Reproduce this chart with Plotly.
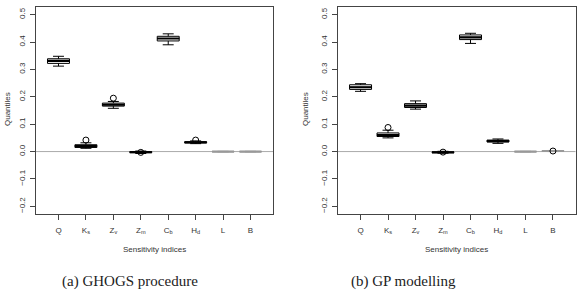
import plotly.graph_objects as go

categories = ["Q", "Ks", "Zv", "Zm", "Cb", "Hd", "L", "B"]
tick_labels = ["Q", "K<sub>s</sub>", "Z<sub>v</sub>", "Z<sub>m</sub>", "C<sub>b</sub>",
               "H<sub>d</sub>", "L", "B"]

# (a) GHOGS procedure
a_low = [0.312, 0.012, 0.158, -0.007, 0.390, 0.029, -0.001, -0.001]
a_q1 = [0.322, 0.015, 0.166, -0.004, 0.404, 0.031, -0.0005, -0.0005]
a_med = [0.331, 0.020, 0.171, -0.002, 0.413, 0.034, 0.000, 0.000]
a_q3 = [0.339, 0.025, 0.177, 0.000, 0.421, 0.036, 0.0005, 0.0005]
a_high = [0.348, 0.032, 0.183, 0.002, 0.430, 0.039, 0.001, 0.001]
a_out_x = ["Ks", "Zv", "Zm", "Hd"]
a_out_y = [0.042, 0.195, -0.003, 0.042]

# (b) GP modelling
b_low = [0.220, 0.050, 0.155, -0.006, 0.395, 0.030, -0.001, 0.000]
b_q1 = [0.227, 0.055, 0.161, -0.004, 0.409, 0.035, -0.0005, 0.001]
b_med = [0.235, 0.060, 0.168, -0.003, 0.417, 0.038, 0.000, 0.002]
b_q3 = [0.244, 0.068, 0.175, -0.001, 0.426, 0.042, 0.0005, 0.003]
b_high = [0.248, 0.078, 0.185, 0.001, 0.432, 0.046, 0.001, 0.004]
b_out_x = ["Ks", "Zm", "B"]
b_out_y = [0.088, -0.002, 0.002]

y_ticks = [-0.2, -0.1, 0.0, 0.1, 0.2, 0.3, 0.4, 0.5]
y_ticktext = ["\u22120.2", "\u22120.1", "0.0", "0.1", "0.2", "0.3", "0.4", "0.5"]

W, H = 578, 292
fig = go.Figure()

def add_panel(low, q1, med, q3, high, out_x, out_y, xa, ya):
    box_cols = ["black"] * 6 + ["#999999", "#999999"]
    for i, c in enumerate(categories):
        fig.add_trace(go.Box(
            x=[c], q1=[q1[i]], median=[med[i]], q3=[q3[i]],
            lowerfence=[low[i]], upperfence=[high[i]],
            fillcolor="white", line=dict(color=box_cols[i], width=1),
            width=0.8, whiskerwidth=0.5, boxpoints=False,
            xaxis=xa, yaxis=ya, showlegend=False, hoverinfo="skip"))
        # thick median bar
        fig.add_trace(go.Box(
            x=[c], q1=[med[i]], median=[med[i]], q3=[med[i]],
            lowerfence=[med[i]], upperfence=[med[i]],
            fillcolor="rgba(0,0,0,0)", line=dict(color=box_cols[i], width=2.2),
            width=0.8, whiskerwidth=0, boxpoints=False,
            xaxis=xa, yaxis=ya, showlegend=False, hoverinfo="skip"))
    fig.add_trace(go.Scatter(
        x=out_x, y=out_y, mode="markers",
        marker=dict(symbol="circle-open", size=6, color="black", line=dict(width=1)),
        xaxis=xa, yaxis=ya, showlegend=False, hoverinfo="skip"))

add_panel(a_low, a_q1, a_med, a_q3, a_high, a_out_x, a_out_y, "x", "y")
add_panel(b_low, b_q1, b_med, b_q3, b_high, b_out_x, b_out_y, "x2", "y2")

axis_font = dict(family="Liberation Sans, Arial, sans-serif", size=8, color="#333333")

xcommon = dict(
    type="category", categoryorder="array", categoryarray=categories,
    tickmode="array", tickvals=categories, ticktext=tick_labels,
    range=[-0.82, 7.82], showgrid=False, zeroline=False,
    showline=True, mirror=True, linecolor="#444444", linewidth=1,
    ticks="outside", ticklen=5, tickcolor="#444444", tickfont=axis_font,
    ticklabelstandoff=3,
)
ycommon = dict(
    range=[-0.228, 0.528], tickmode="array", tickvals=y_ticks, ticktext=y_ticktext,
    showgrid=False, zeroline=False,
    showline=True, mirror=True, linecolor="#444444", linewidth=1,
    ticks="outside", ticklen=5, tickcolor="#444444", tickfont=axis_font,
    tickangle=-90, ticklabelstandoff=2,
)

y_dom = [1 - 214 / H, 1 - 7 / H]
fig.update_layout(
    width=W, height=H, margin=dict(l=0, r=0, t=0, b=0),
    paper_bgcolor="white", plot_bgcolor="white",
    xaxis=dict(domain=[36 / W, 273 / W], anchor="y", **xcommon),
    yaxis=dict(domain=y_dom, anchor="x", **ycommon),
    xaxis2=dict(domain=[338 / W, 575.5 / W], anchor="y2", **xcommon),
    yaxis2=dict(domain=y_dom, anchor="x2", **ycommon),
    boxgap=0, boxgroupgap=0, boxmode="overlay",
)

# zero reference lines
for xr, yr in [("x", "y"), ("x2", "y2")]:
    fig.add_shape(type="line", xref=f"{xr} domain", yref=yr, x0=0, x1=1, y0=0, y1=0,
                  line=dict(color="#aaaaaa", width=1), layer="below")

ann_font = dict(family="Liberation Sans, Arial, sans-serif", size=8, color="#333333")
for cx, lab in [(154.5, "Sensitivity indices"), (456.5, "Sensitivity indices")]:
    fig.add_annotation(text=lab, x=cx / W, y=1 - 249 / H, xref="paper", yref="paper",
                       showarrow=False, font=ann_font, xanchor="center", yanchor="middle")
for cx in [7, 305]:
    fig.add_annotation(text="Quantiles", x=cx / W, y=1 - 109 / H, xref="paper", yref="paper",
                       showarrow=False, font=ann_font, textangle=-90,
                       xanchor="center", yanchor="middle")

cap_font = dict(family="Liberation Serif, DejaVu Serif, serif", size=15, color="#222222")
for cx, lab in [(130, "(a) GHOGS procedure"), (403, "(b) GP modelling")]:
    fig.add_annotation(text=lab, x=cx / W, y=1 - 281 / H, xref="paper", yref="paper",
                       showarrow=False, font=cap_font, xanchor="center", yanchor="middle")

fig.write_html("out.html")
